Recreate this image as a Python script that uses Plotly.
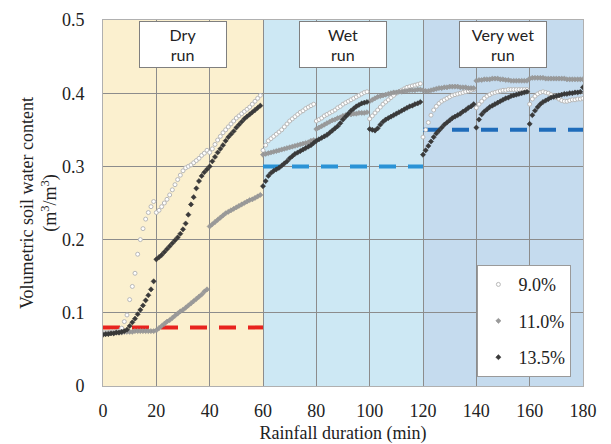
import plotly.graph_objects as go

# ---------------- data ----------------
time_min = list(range(0, 181))

moist_9_0 = [
    0.073, 0.073, 0.073, 0.074, 0.074, 0.074, 0.075, 0.079, 0.088, 0.097,
    0.118, 0.136, 0.154, 0.180, 0.200, 0.215, 0.228, 0.237, 0.245, 0.252,
    0.237, 0.240, 0.245, 0.250, 0.255, 0.261, 0.268, 0.275, 0.282, 0.288,
    0.294, 0.298, 0.300, 0.302, 0.305, 0.308, 0.311, 0.315, 0.318, 0.322,
    0.319, 0.324, 0.330, 0.336, 0.341, 0.346, 0.350, 0.354, 0.358, 0.362,
    0.366, 0.369, 0.372, 0.375, 0.378, 0.381, 0.385, 0.389, 0.393, 0.397,
    0.322, 0.329, 0.335, 0.338, 0.341, 0.344, 0.347, 0.350, 0.354, 0.358,
    0.362, 0.365, 0.368, 0.371, 0.374, 0.376, 0.379, 0.381, 0.383, 0.385,
    0.362, 0.364, 0.366, 0.369, 0.371, 0.373, 0.375, 0.377, 0.380, 0.382,
    0.385, 0.387, 0.389, 0.391, 0.393, 0.395, 0.397, 0.399, 0.401, 0.402,
    0.365, 0.369, 0.373, 0.377, 0.381, 0.385, 0.388, 0.391, 0.394, 0.397,
    0.400, 0.402, 0.404, 0.406, 0.408, 0.409, 0.410, 0.411, 0.412, 0.413,
    0.340, 0.350, 0.360, 0.370, 0.377, 0.382, 0.386, 0.389, 0.391, 0.393,
    0.395, 0.397, 0.398, 0.399, 0.400, 0.401, 0.402, 0.403, 0.404, 0.405,
    0.380, 0.385, 0.389, 0.393, 0.396, 0.398, 0.400, 0.401, 0.402, 0.403,
    0.404, 0.404, 0.405, 0.405, 0.405, 0.405, 0.405, 0.405, 0.405, 0.405,
    0.385, 0.392, 0.396, 0.399, 0.401, 0.402, 0.401, 0.400, 0.398, 0.396,
    0.394, 0.392, 0.390, 0.389, 0.389, 0.390, 0.391, 0.391, 0.392, 0.392,
    0.393,
]

moist_11_0 = [
    0.071, 0.071, 0.072, 0.072, 0.072, 0.073, 0.073, 0.073, 0.074, 0.074,
    0.074, 0.074, 0.075, 0.075, 0.075, 0.075, 0.075, 0.075, 0.075, 0.075,
    0.076, 0.079, 0.082, 0.085, 0.088, 0.090, 0.093, 0.096, 0.099, 0.102,
    0.104, 0.107, 0.110, 0.113, 0.116, 0.119, 0.122, 0.125, 0.129, 0.132,
    0.218, 0.221, 0.224, 0.227, 0.230, 0.233, 0.236, 0.238, 0.240, 0.242,
    0.244, 0.246, 0.248, 0.250, 0.252, 0.254, 0.255, 0.257, 0.259, 0.261,
    0.316, 0.317, 0.318, 0.319, 0.320, 0.321, 0.322, 0.323, 0.324, 0.325,
    0.326, 0.327, 0.328, 0.329, 0.330, 0.331, 0.332, 0.333, 0.335, 0.336,
    0.351, 0.353, 0.355, 0.357, 0.359, 0.361, 0.363, 0.364, 0.366, 0.367,
    0.369, 0.370, 0.371, 0.371, 0.372, 0.372, 0.373, 0.373, 0.373, 0.374,
    0.389, 0.391, 0.393, 0.395, 0.396, 0.397, 0.398, 0.399, 0.400, 0.401,
    0.401, 0.402, 0.402, 0.403, 0.403, 0.404, 0.404, 0.404, 0.405, 0.405,
    0.404, 0.403, 0.403, 0.404, 0.405, 0.406, 0.407, 0.407, 0.408, 0.408,
    0.409, 0.409, 0.409, 0.409, 0.408, 0.408, 0.408, 0.407, 0.407, 0.407,
    0.417, 0.418, 0.418, 0.419, 0.419, 0.419, 0.420, 0.420, 0.420, 0.419,
    0.419, 0.418, 0.418, 0.417, 0.417, 0.417, 0.417, 0.417, 0.417, 0.417,
    0.420, 0.421, 0.421, 0.421, 0.421, 0.421, 0.420, 0.420, 0.420, 0.420,
    0.420, 0.420, 0.420, 0.420, 0.419, 0.419, 0.419, 0.419, 0.419, 0.419,
    0.419,
]

moist_13_5 = [
    0.070, 0.071, 0.071, 0.072, 0.072, 0.073, 0.073, 0.074, 0.075, 0.077,
    0.082, 0.087, 0.092, 0.098, 0.104, 0.110, 0.117, 0.124, 0.132, 0.143,
    0.173, 0.176, 0.179, 0.183, 0.187, 0.191, 0.195, 0.199, 0.203, 0.208,
    0.214, 0.222, 0.234, 0.248, 0.258, 0.270, 0.280, 0.287, 0.292, 0.296,
    0.300, 0.307, 0.313, 0.319, 0.324, 0.329, 0.335, 0.340, 0.344, 0.348,
    0.353, 0.357, 0.361, 0.365, 0.368, 0.371, 0.374, 0.377, 0.380, 0.383,
    0.273, 0.280, 0.287, 0.291, 0.294, 0.296, 0.298, 0.301, 0.304, 0.307,
    0.311, 0.314, 0.317, 0.319, 0.321, 0.323, 0.325, 0.327, 0.329, 0.332,
    0.335, 0.337, 0.339, 0.341, 0.343, 0.346, 0.349, 0.352, 0.355, 0.359,
    0.364, 0.368, 0.372, 0.376, 0.379, 0.382, 0.384, 0.386, 0.387, 0.388,
    0.351, 0.350, 0.349, 0.352, 0.357, 0.361, 0.364, 0.366, 0.368, 0.370,
    0.372, 0.374, 0.376, 0.378, 0.380, 0.382, 0.383, 0.385, 0.386, 0.388,
    0.316, 0.322, 0.328, 0.334, 0.340, 0.345, 0.349, 0.353, 0.357, 0.360,
    0.363, 0.366, 0.368, 0.370, 0.372, 0.375, 0.377, 0.380, 0.382, 0.385,
    0.353, 0.364, 0.371, 0.375, 0.378, 0.381, 0.383, 0.385, 0.387, 0.389,
    0.391, 0.393, 0.394, 0.396, 0.397, 0.398, 0.399, 0.400, 0.401, 0.402,
    0.358, 0.370, 0.376, 0.381, 0.385, 0.388, 0.390, 0.392, 0.394, 0.395,
    0.396, 0.397, 0.398, 0.399, 0.399, 0.400, 0.400, 0.401, 0.401, 0.402,
    0.408,
]

# run phases: names, start, end, threshold levels
run_names = ["Dry<br>run", "Wet<br>run", "Very wet<br>run"]
run_start = [0, 60, 120]
run_end = [60, 120, 180]
run_threshold = [0.08, 0.30, 0.35]

series_names = ["9.0%", "11.0%", "13.5%"]

x_ticks = [0, 20, 40, 60, 80, 100, 120, 140, 160, 180]
y_ticks = [0, 0.1, 0.2, 0.3, 0.4, 0.5]

# ---------------- styling ----------------
run_bg = ["#FBF0CF", "#CDE8F4", "#C5DBEE"]
thr_colors = ["#E8231E", "#2B93D6", "#1F6CBA"]
serif = "Liberation Serif, DejaVu Serif, serif"

fig = go.Figure()

for s, e, c in zip(run_start, run_end, run_bg):
    fig.add_shape(type="rect", xref="x", yref="y", x0=s, x1=e, y0=0, y1=0.5,
                  fillcolor=c, line_width=0, layer="below")

for s, e, v, c in zip(run_start, run_end, run_threshold, thr_colors):
    fig.add_trace(go.Scatter(x=[s, e], y=[v, v], mode="lines",
                             line=dict(color=c, width=4, dash="17px,12px"),
                             showlegend=False, hoverinfo="skip"))

styles = [
    dict(symbol="circle", size=4, color="#FFFFFF", line=dict(color="#B8B8B8", width=1)),
    dict(symbol="diamond", size=4, color="#9A9A9A", line=dict(color="#8E8E8E", width=0.5)),
    dict(symbol="diamond", size=4, color="#3A3A3A", line=dict(color="#333333", width=0.5)),
]
for i, (name, vals, st) in enumerate(zip(series_names, [moist_9_0, moist_11_0, moist_13_5], styles)):
    fig.add_trace(go.Scatter(x=time_min, y=vals, mode="markers", name=name,
                             marker=st, legendgroup=f"g{i}"))

for name, s, e in zip(run_names, run_start, run_end):
    fig.add_annotation(x=(s + e) / 2, y=0.466, xref="x", yref="y", text=name,
                       showarrow=False, font=dict(family="Lato", size=16, color="#222"),
                       bgcolor="white", bordercolor="#7F7F7F", borderwidth=1,
                       borderpad=2, width=82, height=41, align="center")

fig.update_layout(
    width=611, height=444,
    margin=dict(l=103, r=28, t=20, b=58),
    paper_bgcolor="white", plot_bgcolor="white",
    font=dict(family=serif, size=17, color="#222"),
    legend=dict(x=0.78, y=0.33, xanchor="left", yanchor="top",
                bgcolor="white", bordercolor="#9A9A9A", borderwidth=1,
                font=dict(family=serif, size=18, color="#222"),
                tracegroupgap=10, itemwidth=30),
)
fig.update_xaxes(range=[0, 180], tickvals=x_ticks, showgrid=True, gridcolor="#8C8C8C",
                 gridwidth=1, showline=True, linecolor="#B0B0B0", mirror=True,
                 zeroline=False, ticks="", ticklabelstandoff=8, automargin=False,
                 tickfont=dict(family=serif, size=18),
                 title=dict(text="Rainfall duration (min)", standoff=6,
                            font=dict(family=serif, size=18)))
fig.update_yaxes(range=[0, 0.5], tickvals=y_ticks, showgrid=True, gridcolor="#8C8C8C",
                 gridwidth=1, showline=True, linecolor="#B0B0B0", mirror=True,
                 zeroline=False, ticks="", ticklabelstandoff=14, automargin=False,
                 tickfont=dict(family=serif, size=18),
                 title=dict(text="Volumetric soil water content<br>(m<sup>3</sup>/m<sup>3</sup>)",
                            standoff=0, font=dict(family=serif, size=18)))

fig.write_html("out.html")
